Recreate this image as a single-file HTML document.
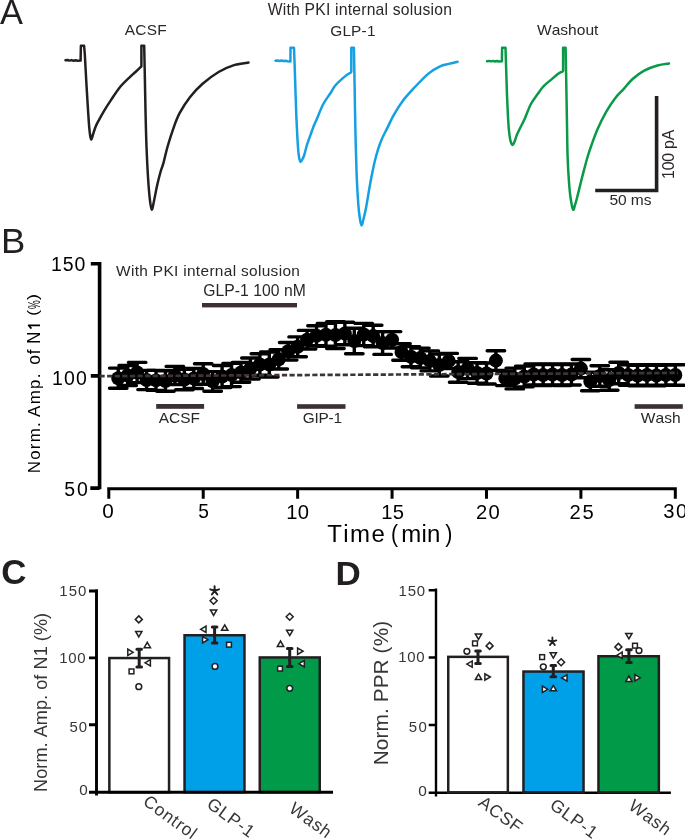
<!DOCTYPE html>
<html><head><meta charset="utf-8"><style>
html,body{margin:0;padding:0;background:#fff;}
svg{display:block;will-change:transform;}
text{font-family:"Liberation Sans",sans-serif;font-kerning:none;}
</style></head><body>
<svg width="685" height="840" viewBox="0 0 685 840">
<rect width="685" height="840" fill="#fff"/>
<g fill="none" stroke-width="2.5" stroke-linejoin="round" stroke-linecap="round">
<path d="M65.50,60.30 L67.50,60.00 L69.50,60.60 L71.50,60.10 L73.50,60.70 L75.50,60.30 L77.50,60.80 L80.60,60.60 L80.90,45.80 L84.10,45.80 C84.23,47.50 84.55,50.30 84.90,56.00 C85.25,61.70 85.78,72.67 86.20,80.00 C86.62,87.33 86.97,93.00 87.40,100.00 C87.83,107.00 88.37,116.25 88.80,122.00 C89.23,127.75 89.60,131.57 90.00,134.50 C90.40,137.43 90.70,139.60 91.20,139.60 C91.70,139.60 92.28,136.60 93.00,134.50 C93.72,132.40 94.58,129.28 95.50,127.00 C96.42,124.72 97.12,123.42 98.50,120.80 C99.88,118.18 101.70,114.78 103.80,111.30 C105.90,107.82 108.42,103.92 111.10,99.90 C113.78,95.88 116.73,91.05 119.90,87.20 C123.07,83.35 127.42,79.42 130.10,76.80 C132.78,74.18 134.28,73.10 136.00,71.50 C137.72,69.90 139.67,67.92 140.40,67.20 L141.40,66.50 L141.40,45.80 L144.20,45.80 C144.32,51.50 144.67,68.47 144.90,80.00 C145.13,91.53 145.33,103.92 145.60,115.00 C145.87,126.08 146.10,136.17 146.50,146.50 C146.90,156.83 147.45,168.25 148.00,177.00 C148.55,185.75 149.17,193.57 149.80,199.00 C150.43,204.43 151.10,209.27 151.80,209.60 C152.50,209.93 153.13,204.93 154.00,201.00 C154.87,197.07 155.92,190.83 157.00,186.00 C158.08,181.17 159.42,175.87 160.50,172.00 C161.58,168.13 162.32,167.05 163.50,162.80 C164.68,158.55 165.95,152.25 167.60,146.50 C169.25,140.75 171.40,133.85 173.40,128.30 C175.40,122.75 176.82,118.42 179.60,113.20 C182.38,107.98 186.27,101.90 190.10,97.00 C193.93,92.10 197.85,87.97 202.60,83.80 C207.35,79.63 213.25,75.15 218.60,72.00 C223.95,68.85 229.72,66.47 234.70,64.90 C239.68,63.33 246.20,62.98 248.50,62.60" stroke="#231f20"/>
<path d="M275.50,60.80 L277.50,60.50 L279.50,61.00 L281.50,60.50 L283.50,61.10 L285.50,60.80 L287.50,61.30 L290.40,61.60 L290.50,47.80 L294.00,47.80 C294.13,51.50 294.53,62.13 294.80,70.00 C295.07,77.87 295.33,87.00 295.60,95.00 C295.87,103.00 296.10,110.83 296.40,118.00 C296.70,125.17 297.07,132.33 297.40,138.00 C297.73,143.67 298.07,148.50 298.40,152.00 C298.73,155.50 299.03,157.35 299.40,159.00 C299.77,160.65 300.12,161.82 300.60,161.90 C301.08,161.98 301.72,160.57 302.30,159.50 C302.88,158.43 303.55,157.08 304.10,155.50 C304.65,153.92 305.08,151.88 305.60,150.00 C306.12,148.12 306.35,146.80 307.20,144.20 C308.05,141.60 309.70,137.20 310.70,134.40 C311.70,131.60 312.20,129.93 313.20,127.40 C314.20,124.87 315.02,123.10 316.70,119.20 C318.38,115.30 321.10,108.20 323.30,104.00 C325.50,99.80 327.83,97.17 329.90,94.00 C331.97,90.83 333.03,88.07 335.70,85.00 C338.37,81.93 343.42,77.67 345.90,75.60 C348.38,73.53 349.82,73.10 350.60,72.60 L351.30,71.80 L351.30,47.80 L353.90,47.80 C354.02,54.00 354.35,71.30 354.60,85.00 C354.85,98.70 355.07,115.20 355.40,130.00 C355.73,144.80 356.13,161.63 356.60,173.80 C357.07,185.97 357.67,195.63 358.20,203.00 C358.73,210.37 359.25,214.27 359.80,218.00 C360.35,221.73 360.88,225.23 361.50,225.40 C362.12,225.57 362.73,222.00 363.50,219.00 C364.27,216.00 364.93,213.57 366.10,207.40 C367.27,201.23 369.08,189.57 370.50,182.00 C371.92,174.43 373.32,167.53 374.60,162.00 C375.88,156.47 377.02,152.57 378.20,148.80 C379.38,145.03 380.15,142.93 381.70,139.40 C383.25,135.87 385.43,131.77 387.50,127.60 C389.57,123.43 391.42,119.03 394.10,114.40 C396.78,109.77 400.32,104.17 403.60,99.80 C406.88,95.43 409.67,92.57 413.80,88.20 C417.93,83.83 424.02,77.25 428.40,73.60 C432.78,69.95 436.70,67.92 440.10,66.30 C443.50,64.68 445.88,64.67 448.80,63.90 C451.72,63.13 456.13,62.07 457.60,61.70" stroke="#14a0e2"/>
<path d="M487.10,61.20 L489.10,60.90 L491.10,61.40 L493.10,60.90 L495.10,61.50 L497.10,61.00 L499.10,61.50 L501.90,61.30 L502.10,47.80 L505.50,47.80 C505.62,51.50 505.95,62.13 506.20,70.00 C506.45,77.87 506.72,87.50 507.00,95.00 C507.28,102.50 507.58,109.17 507.90,115.00 C508.22,120.83 508.52,125.92 508.90,130.00 C509.28,134.08 509.78,137.25 510.20,139.50 C510.62,141.75 510.97,142.62 511.40,143.50 C511.83,144.38 512.27,145.13 512.80,144.80 C513.33,144.47 513.92,143.17 514.60,141.50 C515.28,139.83 515.92,137.17 516.90,134.80 C517.88,132.43 519.23,129.90 520.50,127.30 C521.77,124.70 522.77,123.08 524.50,119.20 C526.23,115.32 528.73,108.15 530.90,104.00 C533.07,99.85 535.43,97.22 537.50,94.30 C539.57,91.38 541.12,88.87 543.30,86.50 C545.48,84.13 548.17,82.18 550.60,80.10 C553.03,78.02 555.93,75.42 557.90,74.00 C559.87,72.58 561.65,72.00 562.40,71.60 L563.10,70.80 L563.10,47.80 L565.60,47.80 C565.72,54.00 566.07,72.13 566.30,85.00 C566.53,97.87 566.78,113.08 567.00,125.00 C567.22,136.92 567.28,147.17 567.60,156.50 C567.92,165.83 568.40,174.08 568.90,181.00 C569.40,187.92 569.90,193.23 570.60,198.00 C571.30,202.77 572.37,208.43 573.10,209.60 C573.83,210.77 574.38,206.80 575.00,205.00 C575.62,203.20 575.78,202.75 576.80,198.80 C577.82,194.85 579.88,186.17 581.10,181.30 C582.32,176.43 583.00,173.73 584.10,169.60 C585.20,165.47 586.55,160.35 587.70,156.50 C588.85,152.65 589.37,151.05 591.00,146.50 C592.63,141.95 594.95,135.02 597.50,129.20 C600.05,123.38 603.38,116.73 606.30,111.60 C609.22,106.47 612.08,102.18 615.00,98.40 C617.92,94.62 620.87,92.13 623.80,88.90 C626.73,85.67 629.20,82.05 632.60,79.00 C636.00,75.95 640.07,72.85 644.20,70.60 C648.33,68.35 653.27,66.70 657.40,65.50 C661.53,64.30 667.07,63.75 669.00,63.40" stroke="#0a9a47"/>
</g>
<path d="M595.2,190.45 H656.6 V96" stroke="#231f20" stroke-width="3.6" fill="none" stroke-linejoin="miter"/>
<path d="M99.6,262 V489.3 M90.8,263.7 H99.6 M90.8,375.9 H99.6 M90.3,488.1 H99.6" stroke="#000" stroke-width="3.6" fill="none"/><path d="M107.2,488.7 H676.8 M108.80,487.3 V498.8 M203.22,487.3 V498.8 M297.64,487.3 V498.8 M392.06,487.3 V498.8 M486.48,487.3 V498.8 M580.90,487.3 V498.8 M675.32,487.3 V498.8" stroke="#000" stroke-width="3" fill="none"/><g fill="#3b3032"><rect x="202" y="303" width="95" height="4.4"/><rect x="156.2" y="404" width="47.9" height="4.8"/><rect x="297.1" y="404.2" width="48.4" height="4.6"/><rect x="634.6" y="404.2" width="48.2" height="4.6"/></g>
<g stroke="#000" stroke-width="3.4" fill="none" stroke-linecap="round"><path d="M118.24,368.10 V388.30 M109.49,368.10 H126.99 M109.49,388.30 H126.99"/><path d="M127.68,365.50 V385.50 M118.93,365.50 H136.43 M118.93,385.50 H136.43"/><path d="M137.13,362.40 V382.60 M128.38,362.40 H145.88 M128.38,382.60 H145.88"/><path d="M146.57,370.40 V389.60 M137.82,370.40 H155.32 M137.82,389.60 H155.32"/><path d="M156.01,370.40 V390.40 M147.26,370.40 H164.76 M147.26,390.40 H164.76"/><path d="M165.45,370.80 V391.20 M156.70,370.80 H174.20 M156.70,391.20 H174.20"/><path d="M174.89,366.50 V384.50 M166.14,366.50 H183.64 M166.14,384.50 H183.64"/><path d="M184.34,369.30 V389.70 M175.59,369.30 H193.09 M175.59,389.70 H193.09"/><path d="M193.78,368.50 V388.50 M185.03,368.50 H202.53 M185.03,388.50 H202.53"/><path d="M203.22,363.70 V384.30 M194.47,363.70 H211.97 M194.47,384.30 H211.97"/><path d="M212.66,371.60 V391.20 M203.91,371.60 H221.41 M203.91,391.20 H221.41"/><path d="M222.10,365.50 V387.50 M213.35,365.50 H230.85 M213.35,387.50 H230.85"/><path d="M231.55,363.40 V386.60 M222.80,363.40 H240.30 M222.80,386.60 H240.30"/><path d="M240.99,362.50 V382.30 M232.24,362.50 H249.74 M232.24,382.30 H249.74"/><path d="M250.43,358.00 V379.00 M241.68,358.00 H259.18 M241.68,379.00 H259.18"/><path d="M259.87,353.70 V375.30 M251.12,353.70 H268.62 M251.12,375.30 H268.62"/><path d="M269.31,352.00 V377.00 M260.56,352.00 H278.06 M260.56,377.00 H278.06"/><path d="M278.76,349.60 V369.00 M270.01,349.60 H287.51 M270.01,369.00 H287.51"/><path d="M288.20,342.50 V360.10 M279.45,342.50 H296.95 M279.45,360.10 H296.95"/><path d="M297.64,336.90 V356.70 M288.89,336.90 H306.39 M288.89,356.70 H306.39"/><path d="M307.08,330.40 V349.00 M298.33,330.40 H315.83 M298.33,349.00 H315.83"/><path d="M316.52,325.70 V345.70 M307.77,325.70 H325.27 M307.77,345.70 H325.27"/><path d="M325.97,323.40 V346.20 M317.22,323.40 H334.72 M317.22,346.20 H334.72"/><path d="M335.41,321.70 V348.50 M326.66,321.70 H344.16 M326.66,348.50 H344.16"/><path d="M344.85,322.20 V344.80 M336.10,322.20 H353.60 M336.10,344.80 H353.60"/><path d="M354.29,328.20 V353.80 M345.54,328.20 H363.04 M345.54,353.80 H363.04"/><path d="M363.73,323.40 V345.60 M354.98,323.40 H372.48 M354.98,345.60 H372.48"/><path d="M373.18,325.20 V346.80 M364.43,325.20 H381.93 M364.43,346.80 H381.93"/><path d="M382.62,331.60 V354.40 M373.87,331.60 H391.37 M373.87,354.40 H391.37"/><path d="M392.06,331.60 V348.00 M383.31,331.60 H400.81 M383.31,348.00 H400.81"/><path d="M401.50,343.80 V360.20 M392.75,343.80 H410.25 M392.75,360.20 H410.25"/><path d="M410.94,346.60 V366.80 M402.19,346.60 H419.69 M402.19,366.80 H419.69"/><path d="M420.39,348.10 V367.90 M411.64,348.10 H429.14 M411.64,367.90 H429.14"/><path d="M429.83,350.90 V370.90 M421.08,350.90 H438.58 M421.08,370.90 H438.58"/><path d="M439.27,354.00 V376.00 M430.52,354.00 H448.02 M430.52,376.00 H448.02"/><path d="M448.71,353.40 V368.60 M439.96,353.40 H457.46 M439.96,368.60 H457.46"/><path d="M458.15,361.80 V382.20 M449.40,361.80 H466.90 M449.40,382.20 H466.90"/><path d="M467.60,358.40 V378.60 M458.85,358.40 H476.35 M458.85,378.60 H476.35"/><path d="M477.04,362.80 V383.20 M468.29,362.80 H485.79 M468.29,383.20 H485.79"/><path d="M486.48,363.00 V384.00 M477.73,363.00 H495.23 M477.73,384.00 H495.23"/><path d="M495.92,350.80 V370.40 M487.17,350.80 H504.67 M487.17,370.40 H504.67"/><path d="M505.36,371.20 V385.60 M496.61,371.20 H514.11 M496.61,385.60 H514.11"/><path d="M514.81,368.10 V388.90 M506.06,368.10 H523.56 M506.06,388.90 H523.56"/><path d="M524.25,366.10 V386.90 M515.50,366.10 H533.00 M515.50,386.90 H533.00"/><path d="M533.69,364.00 V385.00 M524.94,364.00 H542.44 M524.94,385.00 H542.44"/><path d="M543.13,364.50 V385.50 M534.38,364.50 H551.88 M534.38,385.50 H551.88"/><path d="M552.57,364.00 V385.00 M543.82,364.00 H561.32 M543.82,385.00 H561.32"/><path d="M562.02,364.50 V385.50 M553.27,364.50 H570.77 M553.27,385.50 H570.77"/><path d="M571.46,364.00 V385.00 M562.71,364.00 H580.21 M562.71,385.00 H580.21"/><path d="M580.90,359.50 V377.70 M572.15,359.50 H589.65 M572.15,377.70 H589.65"/><path d="M590.34,372.20 V390.80 M581.59,372.20 H599.09 M581.59,390.80 H599.09"/><path d="M599.78,365.70 V386.30 M591.03,365.70 H608.53 M591.03,386.30 H608.53"/><path d="M609.23,369.80 V390.20 M600.48,369.80 H617.98 M600.48,390.20 H617.98"/><path d="M618.67,362.20 V383.80 M609.92,362.20 H627.42 M609.92,383.80 H627.42"/><path d="M628.11,364.70 V385.30 M619.36,364.70 H636.86 M619.36,385.30 H636.86"/><path d="M637.55,365.20 V385.80 M628.80,365.20 H646.30 M628.80,385.80 H646.30"/><path d="M646.99,364.70 V385.30 M638.24,364.70 H655.74 M638.24,385.30 H655.74"/><path d="M656.44,365.20 V385.80 M647.69,365.20 H665.19 M647.69,385.80 H665.19"/><path d="M665.88,364.70 V385.30 M657.13,364.70 H674.63 M657.13,385.30 H674.63"/><path d="M675.32,364.70 V385.30 M666.57,364.70 H684.07 M666.57,385.30 H684.07"/></g><g fill="#000"><circle cx="118.24" cy="378.20" r="7"/><circle cx="127.68" cy="375.50" r="7"/><circle cx="137.13" cy="372.50" r="7"/><circle cx="146.57" cy="380.00" r="7"/><circle cx="156.01" cy="380.40" r="7"/><circle cx="165.45" cy="381.00" r="7"/><circle cx="174.89" cy="375.50" r="7"/><circle cx="184.34" cy="379.50" r="7"/><circle cx="193.78" cy="378.50" r="7"/><circle cx="203.22" cy="374.00" r="7"/><circle cx="212.66" cy="381.40" r="7"/><circle cx="222.10" cy="376.50" r="7"/><circle cx="231.55" cy="375.00" r="7"/><circle cx="240.99" cy="372.40" r="7"/><circle cx="250.43" cy="368.50" r="7"/><circle cx="259.87" cy="364.50" r="7"/><circle cx="269.31" cy="364.50" r="7"/><circle cx="278.76" cy="359.30" r="7"/><circle cx="288.20" cy="351.30" r="7"/><circle cx="297.64" cy="346.80" r="7"/><circle cx="307.08" cy="339.70" r="7"/><circle cx="316.52" cy="335.70" r="7"/><circle cx="325.97" cy="334.80" r="7"/><circle cx="335.41" cy="335.10" r="7"/><circle cx="344.85" cy="333.50" r="7"/><circle cx="354.29" cy="341.00" r="7"/><circle cx="363.73" cy="334.50" r="7"/><circle cx="373.18" cy="336.00" r="7"/><circle cx="382.62" cy="343.00" r="7"/><circle cx="392.06" cy="339.80" r="7"/><circle cx="401.50" cy="352.00" r="7"/><circle cx="410.94" cy="356.70" r="7"/><circle cx="420.39" cy="358.00" r="7"/><circle cx="429.83" cy="360.90" r="7"/><circle cx="439.27" cy="365.00" r="7"/><circle cx="448.71" cy="361.00" r="7"/><circle cx="458.15" cy="372.00" r="7"/><circle cx="467.60" cy="368.50" r="7"/><circle cx="477.04" cy="373.00" r="7"/><circle cx="486.48" cy="373.50" r="7"/><circle cx="495.92" cy="360.60" r="7"/><circle cx="505.36" cy="378.40" r="7"/><circle cx="514.81" cy="378.50" r="7"/><circle cx="524.25" cy="376.50" r="7"/><circle cx="533.69" cy="374.50" r="7"/><circle cx="543.13" cy="375.00" r="7"/><circle cx="552.57" cy="374.50" r="7"/><circle cx="562.02" cy="375.00" r="7"/><circle cx="571.46" cy="374.50" r="7"/><circle cx="580.90" cy="368.60" r="7"/><circle cx="590.34" cy="381.50" r="7"/><circle cx="599.78" cy="376.00" r="7"/><circle cx="609.23" cy="380.00" r="7"/><circle cx="618.67" cy="373.00" r="7"/><circle cx="628.11" cy="375.00" r="7"/><circle cx="637.55" cy="375.50" r="7"/><circle cx="646.99" cy="375.00" r="7"/><circle cx="656.44" cy="375.50" r="7"/><circle cx="665.88" cy="375.00" r="7"/><circle cx="675.32" cy="375.00" r="7"/></g><path d="M99.5,376.2 L678,372.9" stroke="#3d3537" stroke-width="2.7" stroke-dasharray="5.2,2.4" fill="none"/>
<rect x="109.35" y="658.05" width="59.70" height="134.15" fill="#fff" stroke="#231f20" stroke-width="2.50"/><rect x="184.55" y="635.25" width="59.90" height="156.95" fill="#00a0e9" stroke="#231f20" stroke-width="2.50"/><rect x="259.75" y="657.45" width="60.00" height="134.75" fill="#009a48" stroke="#231f20" stroke-width="2.50"/><path d="M96.5,589.2 V795.6 M89,591 H96.5 M89,657.9 H96.5 M89,724.8 H96.5 M89,792.2 H333" stroke="#000" stroke-width="2.9" fill="none"/><path d="M139.20,649.30 V667.00 M136.90,649.30 H141.50 M136.90,667.00 H141.50" stroke="#231f20" stroke-width="3" fill="none" stroke-linecap="round"/><path d="M214.60,627.10 V643.10 M212.30,627.10 H216.90 M212.30,643.10 H216.90" stroke="#231f20" stroke-width="3" fill="none" stroke-linecap="round"/><path d="M289.70,648.40 V666.40 M287.40,648.40 H292.00 M287.40,666.40 H292.00" stroke="#231f20" stroke-width="3" fill="none" stroke-linecap="round"/><path d="M138.80,615.90 L142.30,619.40 L138.80,622.90 L135.30,619.40 Z" fill="#fff" stroke="#231f20" stroke-width="1.5"/><path d="M138.80,636.90 L141.95,631.50 L135.65,631.50 Z" fill="#fff" stroke="#231f20" stroke-width="1.5"/><path d="M147.30,642.30 L150.45,647.70 L144.15,647.70 Z" fill="#fff" stroke="#231f20" stroke-width="1.5"/><path d="M133.20,652.30 L127.80,649.15 L127.80,655.45 Z" fill="#fff" stroke="#231f20" stroke-width="1.5"/><path d="M145.00,662.80 L150.40,659.65 L150.40,665.95 Z" fill="#fff" stroke="#231f20" stroke-width="1.5"/><rect x="129.10" y="669.00" width="4.80" height="4.80" fill="#fff" stroke="#231f20" stroke-width="1.5"/><circle cx="138.80" cy="686.70" r="2.90" fill="#fff" stroke="#231f20" stroke-width="1.5"/><path d="M213.60,597.20 L217.10,600.70 L213.60,604.20 L210.10,600.70 Z" fill="#fff" stroke="#231f20" stroke-width="1.5"/><path d="M213.60,615.40 L216.75,610.00 L210.45,610.00 Z" fill="#fff" stroke="#231f20" stroke-width="1.5"/><path d="M200.60,629.30 L206.00,626.15 L206.00,632.45 Z" fill="#fff" stroke="#231f20" stroke-width="1.5"/><path d="M224.70,624.90 L227.85,630.30 L221.55,630.30 Z" fill="#fff" stroke="#231f20" stroke-width="1.5"/><path d="M208.00,639.70 L202.60,636.55 L202.60,642.85 Z" fill="#fff" stroke="#231f20" stroke-width="1.5"/><rect x="226.60" y="642.30" width="4.80" height="4.80" fill="#fff" stroke="#231f20" stroke-width="1.5"/><circle cx="215.00" cy="666.40" r="2.90" fill="#fff" stroke="#231f20" stroke-width="1.5"/><path d="M289.70,613.30 L293.20,616.80 L289.70,620.30 L286.20,616.80 Z" fill="#fff" stroke="#231f20" stroke-width="1.5"/><path d="M289.70,635.60 L292.85,630.20 L286.55,630.20 Z" fill="#fff" stroke="#231f20" stroke-width="1.5"/><path d="M280.50,641.00 L283.65,646.40 L277.35,646.40 Z" fill="#fff" stroke="#231f20" stroke-width="1.5"/><path d="M303.00,651.20 L297.60,648.05 L297.60,654.35 Z" fill="#fff" stroke="#231f20" stroke-width="1.5"/><path d="M298.90,663.70 L304.30,660.55 L304.30,666.85 Z" fill="#fff" stroke="#231f20" stroke-width="1.5"/><rect x="277.60" y="666.20" width="4.80" height="4.80" fill="#fff" stroke="#231f20" stroke-width="1.5"/><circle cx="289.70" cy="688.30" r="2.90" fill="#fff" stroke="#231f20" stroke-width="1.5"/>
<path d="M436,588.6 V796.4 M428.7,590.2 H436 M428.7,657.5 H436 M428.7,725 H436 M428.7,792.8 H670.9" stroke="#000" stroke-width="2.4" fill="none"/><rect x="448.25" y="656.85" width="59.60" height="135.45" fill="#fff" stroke="#231f20" stroke-width="2.50"/><rect x="523.45" y="671.55" width="60.10" height="120.75" fill="#00a0e9" stroke="#231f20" stroke-width="2.50"/><rect x="598.45" y="656.25" width="60.40" height="136.05" fill="#009a48" stroke="#231f20" stroke-width="2.50"/><path d="M478.00,651.00 V663.40 M475.70,651.00 H480.30 M475.70,663.40 H480.30" stroke="#231f20" stroke-width="3" fill="none" stroke-linecap="round"/><path d="M553.30,665.60 V676.70 M551.00,665.60 H555.60 M551.00,676.70 H555.60" stroke="#231f20" stroke-width="3" fill="none" stroke-linecap="round"/><path d="M628.90,649.80 V662.60 M626.60,649.80 H631.20 M626.60,662.60 H631.20" stroke="#231f20" stroke-width="3" fill="none" stroke-linecap="round"/><path d="M478.50,639.40 L481.65,634.00 L475.35,634.00 Z" fill="#fff" stroke="#231f20" stroke-width="1.5"/><rect x="472.60" y="641.00" width="4.80" height="4.80" fill="#fff" stroke="#231f20" stroke-width="1.5"/><path d="M489.60,642.40 L493.10,645.90 L489.60,649.40 L486.10,645.90 Z" fill="#fff" stroke="#231f20" stroke-width="1.5"/><circle cx="466.90" cy="651.30" r="2.90" fill="#fff" stroke="#231f20" stroke-width="1.5"/><path d="M466.80,664.10 L472.20,660.95 L472.20,667.25 Z" fill="#fff" stroke="#231f20" stroke-width="1.5"/><path d="M478.50,674.20 L481.65,679.60 L475.35,679.60 Z" fill="#fff" stroke="#231f20" stroke-width="1.5"/><path d="M490.30,677.00 L484.90,673.85 L484.90,680.15 Z" fill="#fff" stroke="#231f20" stroke-width="1.5"/><rect x="539.70" y="654.70" width="4.80" height="4.80" fill="#fff" stroke="#231f20" stroke-width="1.5"/><path d="M553.30,658.10 L556.45,652.70 L550.15,652.70 Z" fill="#fff" stroke="#231f20" stroke-width="1.5"/><path d="M561.10,658.80 L564.60,662.30 L561.10,665.80 L557.60,662.30 Z" fill="#fff" stroke="#231f20" stroke-width="1.5"/><circle cx="543.30" cy="666.80" r="2.90" fill="#fff" stroke="#231f20" stroke-width="1.5"/><path d="M561.60,677.90 L567.00,674.75 L567.00,681.05 Z" fill="#fff" stroke="#231f20" stroke-width="1.5"/><path d="M547.80,689.30 L542.40,686.15 L542.40,692.45 Z" fill="#fff" stroke="#231f20" stroke-width="1.5"/><path d="M553.30,685.40 L556.45,690.80 L550.15,690.80 Z" fill="#fff" stroke="#231f20" stroke-width="1.5"/><path d="M628.90,638.80 L632.05,633.40 L625.75,633.40 Z" fill="#fff" stroke="#231f20" stroke-width="1.5"/><path d="M618.40,643.40 L621.90,646.90 L618.40,650.40 L614.90,646.90 Z" fill="#fff" stroke="#231f20" stroke-width="1.5"/><rect x="632.60" y="643.30" width="4.80" height="4.80" fill="#fff" stroke="#231f20" stroke-width="1.5"/><circle cx="639.00" cy="650.60" r="2.90" fill="#fff" stroke="#231f20" stroke-width="1.5"/><path d="M616.80,655.30 L622.20,652.15 L622.20,658.45 Z" fill="#fff" stroke="#231f20" stroke-width="1.5"/><path d="M628.90,676.00 L632.05,681.40 L625.75,681.40 Z" fill="#fff" stroke="#231f20" stroke-width="1.5"/><path d="M640.30,677.80 L634.90,674.65 L634.90,680.95 Z" fill="#fff" stroke="#231f20" stroke-width="1.5"/>
<text transform="matrix(0.9616,0,0,1,-0.07,24.10)" font-size="35.76" fill="#231f20">A</text><text x="267.73" y="15.00" font-size="15.70" fill="#2b2728" letter-spacing="0.217">With PKI internal solusion</text><text x="124.77" y="34.90" font-size="15.41" fill="#2b2728" letter-spacing="0.252">ACSF</text><text x="330.23" y="35.70" font-size="15.41" fill="#2b2728" letter-spacing="0.175">GLP-1</text><text x="537.03" y="35.40" font-size="15.55" fill="#2b2728" letter-spacing="0.001">Washout</text><text x="609.38" y="205.30" font-size="15.55" fill="#2b2728" letter-spacing="-0.042">50 ms</text><text transform="translate(673.60,178.91) rotate(-90)" font-size="15.84" fill="#2b2728" letter-spacing="-0.195">100 pA</text><text transform="matrix(1.0320,0,0,1,0.91,252.50)" font-size="35.32" fill="#231f20">B</text><text x="51.12" y="271.40" font-size="19.48" fill="#000" letter-spacing="0.874">150</text><text x="52.12" y="385.20" font-size="19.48" fill="#000" letter-spacing="1.174">100</text><text x="64.22" y="495.80" font-size="19.48" fill="#000" letter-spacing="1.976">50</text><text transform="matrix(1.0251,0,0,1,102.29,517.60)" font-size="20.20" fill="#000">0</text><text transform="matrix(0.9500,0,0,1,198.13,517.70)" font-size="20.20" fill="#000">5</text><text x="286.36" y="519.30" font-size="20.20" fill="#000" letter-spacing="0.255">10</text><text x="381.26" y="518.60" font-size="20.20" fill="#000" letter-spacing="0.315">15</text><text x="475.98" y="519.40" font-size="20.20" fill="#000" letter-spacing="1.233">20</text><text x="569.48" y="519.00" font-size="20.20" fill="#000" letter-spacing="1.892">25</text><text x="663.23" y="518.10" font-size="20.20" fill="#000" letter-spacing="1.586">30</text><text x="327.26" y="541.70" font-size="23.98" fill="#000" letter-spacing="1.437">Time</text><text transform="matrix(0.8807,0,0,1,391.09,541.70)" font-size="23.98" fill="#000">(</text><text x="401.21" y="541.70" font-size="23.98" fill="#000" letter-spacing="0.303">min</text><text transform="matrix(0.8964,0,0,1,445.37,541.70)" font-size="23.98" fill="#000">)</text><text transform="translate(40.00,473.28) rotate(-90)" font-size="16.86" fill="#000" letter-spacing="1.294">Norm.</text><text transform="translate(40.00,416.93) rotate(-90)" font-size="16.86" fill="#000" letter-spacing="1.373">Amp.</text><text transform="translate(40.00,364.83) rotate(-90)" font-size="17.44" fill="#000" letter-spacing="0.960">of</text><text transform="translate(40.00,343.87) rotate(-90) scale(0.9545,1)" font-size="17.44" fill="#000">N</text><path d="M40.0,325.3 H28.6 L31.4,328.6" stroke="#000" stroke-width="1.75" fill="none" stroke-linejoin="round"/><text transform="translate(38.40,315.92) rotate(-90) scale(1.1833,1)" font-size="15.30" fill="#000">(</text><text transform="translate(39.60,308.95) rotate(-90) scale(0.6076,1)" font-size="16.30" fill="#000">%</text><text transform="translate(38.40,300.11) rotate(-90) scale(1.1833,1)" font-size="15.30" fill="#000">)</text><text x="116.03" y="275.80" font-size="15.41" fill="#2b2728" letter-spacing="0.333">With PKI internal solusion</text><text x="203.31" y="295.90" font-size="15.70" fill="#2b2728" letter-spacing="0.035">GLP-1 100 nM</text><text x="158.77" y="422.60" font-size="15.41" fill="#2b2728" letter-spacing="-0.015">ACSF</text><text x="302.63" y="423.10" font-size="15.41" fill="#2b2728" letter-spacing="-0.228">GIP-1</text><text x="640.73" y="423.00" font-size="15.55" fill="#2b2728" letter-spacing="0.075">Wash</text><text transform="matrix(1.0166,0,0,1,1.17,584.00)" font-size="34.30" fill="#231f20" font-weight="bold">C</text><text x="59.26" y="596.00" font-size="14.97" fill="#3a3637" letter-spacing="1.073">150</text><text x="59.16" y="662.60" font-size="14.97" fill="#3a3637" letter-spacing="0.723">100</text><text x="69.40" y="731.50" font-size="14.97" fill="#3a3637" letter-spacing="0.932">50</text><text transform="matrix(1.0200,0,0,1,79.20,795.40)" font-size="14.97" fill="#3a3637">0</text><text transform="translate(46.80,791.89) rotate(-90)" font-size="18.17" fill="#3a3637" letter-spacing="0.022">Norm. Amp. of N1 (%)</text><text transform="translate(141.9,803.8) rotate(36)" font-size="17.5" letter-spacing="0.8" fill="#3a3637">Control</text><text transform="translate(205.7,806.6) rotate(36)" font-size="17.5" letter-spacing="0.8" fill="#3a3637">GLP-1</text><text transform="translate(288.1,811.0) rotate(36)" font-size="17.5" letter-spacing="0.8" fill="#3a3637">Wash</text><path d="M214.60,590.80 L214.60,586.20 M214.60,590.80 L218.97,589.38 M214.60,590.80 L217.30,594.52 M214.60,590.80 L211.90,594.52 M214.60,590.80 L210.23,589.38 " stroke="#231f20" stroke-width="2.00" stroke-linecap="round" fill="none"/><text transform="matrix(1.0307,0,0,1,335.55,584.50)" font-size="34.01" fill="#231f20" font-weight="bold">D</text><text x="398.56" y="595.50" font-size="14.97" fill="#3a3637" letter-spacing="0.823">150</text><text x="398.26" y="662.00" font-size="14.97" fill="#3a3637" letter-spacing="0.623">100</text><text x="408.70" y="731.70" font-size="14.97" fill="#3a3637" letter-spacing="1.432">50</text><text transform="matrix(1.0340,0,0,1,418.20,796.20)" font-size="14.97" fill="#3a3637">0</text><text transform="translate(387.90,765.31) rotate(-90)" font-size="20.79" fill="#3a3637" letter-spacing="0.108">Norm. PPR (%)</text><text transform="translate(477.2,804.8) rotate(36)" font-size="17.5" letter-spacing="0.8" fill="#3a3637">ACSF</text><text transform="translate(548.7,807.5) rotate(36)" font-size="17.5" letter-spacing="0.8" fill="#3a3637">GLP-1</text><text transform="translate(627.5,808.2) rotate(36)" font-size="17.5" letter-spacing="0.8" fill="#3a3637">Wash</text><path d="M552.40,641.70 L552.40,637.50 M552.40,641.70 L556.39,640.40 M552.40,641.70 L554.87,645.10 M552.40,641.70 L549.93,645.10 M552.40,641.70 L548.41,640.40 " stroke="#231f20" stroke-width="1.80" stroke-linecap="round" fill="none"/>
</svg>
</body></html>
